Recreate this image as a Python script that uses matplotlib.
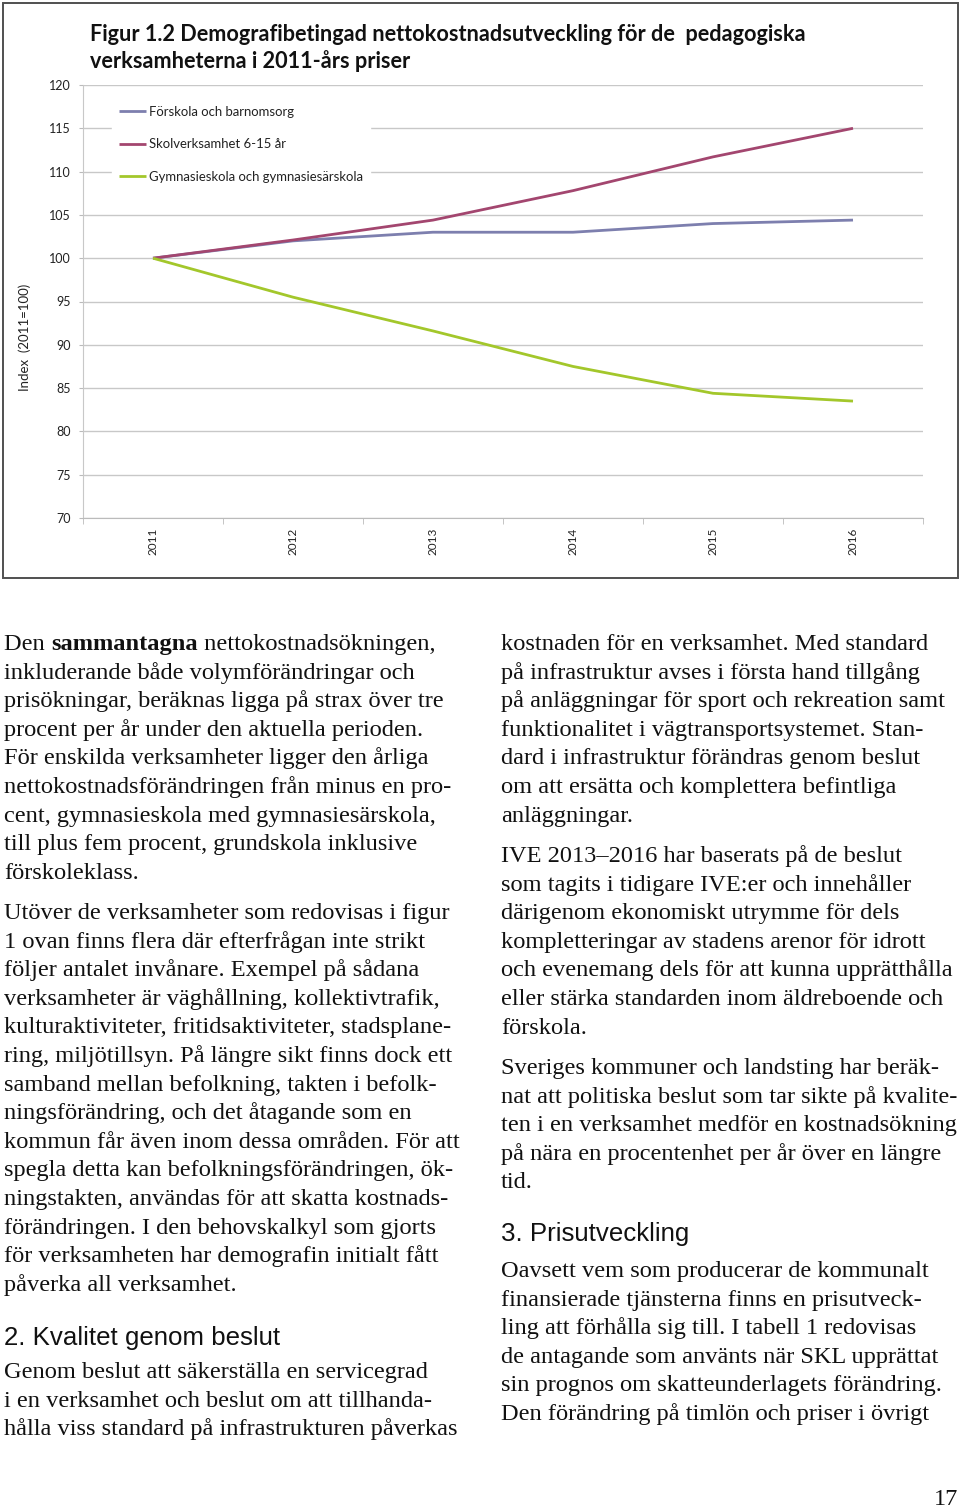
import matplotlib
matplotlib.use("Agg")
import matplotlib.pyplot as plt
from matplotlib.patches import Rectangle
import numpy as np

W, H = 960, 1509

years = ["2011", "2012", "2013", "2014", "2015", "2016"]
forskola = [100.0, 102.0, 103.0, 103.0, 104.0, 104.4]
skolverksamhet = [100.0, 102.1, 104.4, 107.8, 111.7, 115.0]
gymnasieskola = [100.0, 95.5, 91.6, 87.5, 84.4, 83.5]
series_labels = [
    "Förskola och barnomsorg",
    "Skolverksamhet 6-15 år",
    "Gymnasieskola och gymnasiesärskola",
]
series_colors = ["#7D7FAE", "#A3466F", "#A3C72B"]
y_ticks = [70, 75, 80, 85, 90, 95, 100, 105, 110, 115, 120]

title_lines = [
    "Figur 1.2 Demografibetingad nettokostnadsutveckling för de  pedagogiska",
    "verksamheterna i 2011-års priser",
]

left_col = [
    [
        [("Den ", "normal"), ("sammantagna", "bold"), (" nettokostnadsökningen,", "normal")],
        "inkluderande både volymförändringar och",
        "prisökningar, beräknas ligga på strax över tre",
        "procent per år under den aktuella perioden.",
        "För enskilda verksamheter ligger den årliga",
        "nettokostnadsförändringen från minus en pro-",
        "cent, gymnasieskola med gymnasiesärskola,",
        "till plus fem procent, grundskola inklusive",
        "förskoleklass.",
    ],
    [
        "Utöver de verksamheter som redovisas i figur",
        "1 ovan finns flera där efterfrågan inte strikt",
        "följer antalet invånare. Exempel på sådana",
        "verksamheter är väghållning, kollektivtrafik,",
        "kulturaktiviteter, fritidsaktiviteter, stadsplane-",
        "ring, miljötillsyn. På längre sikt finns dock ett",
        "samband mellan befolkning, takten i befolk-",
        "ningsförändring, och det åtagande som en",
        "kommun får även inom dessa områden. För att",
        "spegla detta kan befolkningsförändringen, ök-",
        "ningstakten, användas för att skatta kostnads-",
        "förändringen. I den behovskalkyl som gjorts",
        "för verksamheten har demografin initialt fått",
        "påverka all verksamhet.",
    ],
    [
        "Genom beslut att säkerställa en servicegrad",
        "i en verksamhet och beslut om att tillhanda-",
        "hålla viss standard på infrastrukturen påverkas",
    ],
]
left_starts = [650, 919, 1378]

right_col = [
    [
        "kostnaden för en verksamhet. Med standard",
        "på infrastruktur avses i första hand tillgång",
        "på anläggningar för sport och rekreation samt",
        "funktionalitet i vägtransportsystemet. Stan-",
        "dard i infrastruktur förändras genom beslut",
        "om att ersätta och komplettera befintliga",
        "anläggningar.",
    ],
    [
        "IVE 2013–2016 har baserats på de beslut",
        "som tagits i tidigare IVE:er och innehåller",
        "därigenom ekonomiskt utrymme för dels",
        "kompletteringar av stadens arenor för idrott",
        "och evenemang dels för att kunna upprätthålla",
        "eller stärka standarden inom äldreboende och",
        "förskola.",
    ],
    [
        "Sveriges kommuner och landsting har beräk-",
        "nat att politiska beslut som tar sikte på kvalite-",
        "ten i en verksamhet medför en kostnadsökning",
        "på nära en procentenhet per år över en längre",
        "tid.",
    ],
    [
        "Oavsett vem som producerar de kommunalt",
        "finansierade tjänsterna finns en prisutveck-",
        "ling att förhålla sig till. I tabell 1 redovisas",
        "de antagande som använts när SKL upprättat",
        "sin prognos om skatteunderlagets förändring.",
        "Den förändring på timlön och priser i övrigt",
    ],
]
right_starts = [650, 862, 1074, 1277]

headings = [("2. Kvalitet genom beslut", 4, 1345), ("3. Prisutveckling", 501, 1241)]

LINE = 28.6
BODY_FONT = "Liberation Serif"
BODY_SIZE = 17.6
CHART_FONT = "Lato"


def fx(x):
    return x / W


def fy(y):
    return 1 - y / H


fig = plt.figure(figsize=(W / 100, H / 100), dpi=100)
fig.patch.set_facecolor("white")

# chart frame
fig.patches.append(
    Rectangle((fx(3), fy(578)), fx(955), 575 / H, transform=fig.transFigure,
              fill=False, edgecolor="#505050", linewidth=1.4)
)

ax = fig.add_axes([fx(83), fy(518), fx(840), 433 / H])
x = np.arange(len(years))
ax.set_xlim(-0.5, len(years) - 0.5)
ax.set_ylim(70, 120)
ax.set_yticks(y_ticks)
ax.set_yticklabels([str(t) for t in y_ticks])
ax.set_xticks(x)
ax.set_xticklabels(years, rotation=90)
ax.set_xticks(np.arange(-0.5, len(years)), minor=True)
ax.tick_params(axis="x", which="major", length=0, pad=7, labelsize=8.5, colors="#222222")
ax.tick_params(axis="x", which="minor", length=4, color="#BBBBBB")
ax.tick_params(axis="y", length=3, color="#BBBBBB", pad=6, labelsize=9, colors="#222222")
for lbl in ax.get_xticklabels() + ax.get_yticklabels():
    lbl.set_fontfamily(CHART_FONT)
ax.grid(axis="y", color="#C8C8C8", linewidth=1)
ax.set_axisbelow(True)
for s in ["top", "right"]:
    ax.spines[s].set_visible(False)
ax.spines["left"].set_color("#C8C8C8")
ax.spines["bottom"].set_color("#BBBBBB")

for vals, lab, col in zip([forskola, skolverksamhet, gymnasieskola], series_labels, series_colors):
    ax.plot(x, vals, color=col, linewidth=2, label=lab, solid_capstyle="butt")

ax.set_ylabel("Index  (2011=100)", fontfamily=CHART_FONT, fontsize=9.5, color="#222222")
ax.yaxis.set_label_coords(-(83 - 31) / 840, (518 - 337) / 433)

leg = ax.legend(loc="upper left", bbox_to_anchor=((112 - 83) / 840, (518 - 99) / 433),
                frameon=True, facecolor="white", edgecolor="white", framealpha=1,
                fancybox=False, borderaxespad=0, borderpad=0.5, handlelength=2.1,
                handletextpad=0.25, labelspacing=1.58,
                prop={"family": CHART_FONT, "size": 9.45})
for t in leg.get_texts():
    t.set_color("#222222")

for i, line in enumerate(title_lines):
    fig.text(fx(90), fy(41 + 27 * i), line, fontfamily=CHART_FONT, fontweight="bold",
             fontsize=15.6, va="baseline", ha="left", color="#111111")

# body text
renderer = fig.canvas.get_renderer()


def draw_line(xp, yp, line):
    if isinstance(line, str):
        fig.text(fx(xp), fy(yp), line, fontfamily=BODY_FONT, fontsize=BODY_SIZE,
                 va="baseline", ha="left", color="#111111")
        return
    cur = xp
    for txt, weight in line:
        t = fig.text(fx(cur), fy(yp), txt, fontfamily=BODY_FONT, fontsize=BODY_SIZE,
                     fontweight=weight, va="baseline", ha="left", color="#111111")
        cur += t.get_window_extent(renderer=renderer).width


for col_x, paras, starts in [(4, left_col, left_starts), (501, right_col, right_starts)]:
    for para, y0 in zip(paras, starts):
        for i, line in enumerate(para):
            draw_line(col_x, y0 + i * LINE, line)

for txt, hx, hy in headings:
    fig.text(fx(hx), fy(hy), txt, fontfamily="Liberation Sans", fontsize=18.6,
             va="baseline", ha="left", color="#111111")

fig.text(fx(958), fy(1505), "17", fontfamily=BODY_FONT, fontsize=17.5,
         va="baseline", ha="right", color="#111111")

fig.savefig("out.png", dpi=100)
